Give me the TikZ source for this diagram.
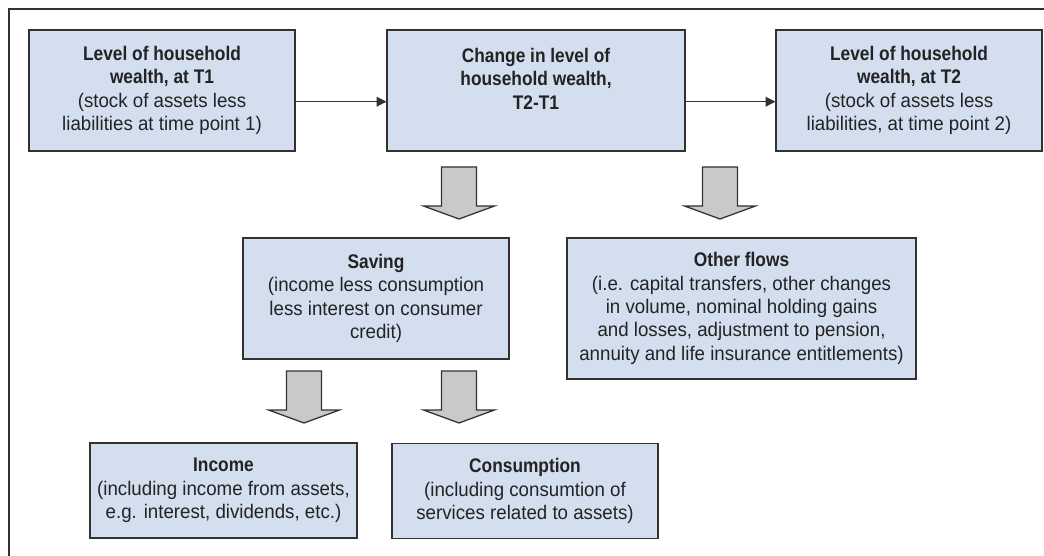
\documentclass[tikz,border=0pt]{standalone}
\usepackage{fontspec}
\setmainfont{Liberation Sans}[FakeStretch=0.95, BoldFeatures={FakeStretch=0.88}]
\usetikzlibrary{arrows.meta}

\definecolor{boxfill}{RGB}{211,222,239}
\definecolor{boxline}{RGB}{50,50,50}
\definecolor{arrowfill}{RGB}{200,201,203}
\definecolor{txt}{RGB}{35,35,35}

\def\px{0.025cm}

\tikzset{
  wbox/.style={draw=boxline, line width=0.9pt, fill=boxfill, align=center,
    text=txt, inner sep=0pt, font=\fontsize{14}{16.6}\selectfont},
  flow/.style={line width=0.8pt, draw=boxline, -{Triangle[length=7pt,width=7pt]}},
  blockarrow/.style={draw=boxline, line width=0.9pt, fill=arrowfill, line join=miter}
}

\begin{document}
\begin{tikzpicture}[x=0.025cm, y=-0.025cm]
    \useasboundingbox (0,0) rectangle (1044,556);

    % outer frame
    \draw[line width=1.4pt, draw=boxline] (9,556) -- (9,9) -- (1044,9);

    % wealth at T1, change, wealth at T2
    \node[wbox, minimum width=266*\px, minimum height=121*\px] (lvlone) at (162,90.5)
        {\textbf{Level of household}\\\textbf{wealth, at T1}\\(stock of assets less\\liabilities at time point 1)};
    \node[wbox, minimum width=298*\px, minimum height=121*\px] (change) at (536,90.5)
        {\textbf{Change in level of}\\\textbf{household wealth,}\\\textbf{T2-T1}\\\phantom{T}};
    \node[wbox, minimum width=266*\px, minimum height=121*\px] (lvltwo) at (909,90.5)
        {\textbf{Level of household}\\\textbf{wealth, at T2}\\(stock of assets less\\liabilities, at time point 2)};

    \draw[flow] ([yshift=-0.28cm]lvlone.east) -- ([yshift=-0.28cm]change.west);
    \draw[flow] ([yshift=-0.28cm]change.east) -- ([yshift=-0.28cm]lvltwo.west);

    % saving and other flows
    \node[wbox, minimum width=266*\px, minimum height=121*\px] (saving) at (376,298.5)
        {\textbf{Saving}\\(income less consumption\\less interest on consumer\\credit)};
    \node[wbox, minimum width=349*\px, minimum height=141*\px] (other) at (741.5,308.5)
        {\textbf{Other flows}\\(i.e. capital transfers, other changes\\in volume, nominal holding gains\\and losses, adjustment to pension,\\annuity and life insurance entitlements)};

    % income and consumption
    \node[wbox, minimum width=267*\px, minimum height=95*\px] (income) at (223.5,490.5)
        {\textbf{Income}\\(including income from assets,\\e.g. interest, dividends, etc.)};
    \node[wbox, minimum width=266*\px, minimum height=95*\px] (consum) at (525,491)
        {\textbf{Consumption}\\(including consumtion of\\services related to assets)};

    % block arrows
    \foreach \x/\y in {459/167, 720/167, 304/371, 459/371}
        \draw[blockarrow] (\x-17.5,\y) -- (\x+17.5,\y) -- (\x+17.5,\y+39) -- (\x+35.5,\y+39)
            -- (\x,\y+52) -- (\x-35.5,\y+39) -- (\x-17.5,\y+39) -- cycle;
\end{tikzpicture}
\end{document}
